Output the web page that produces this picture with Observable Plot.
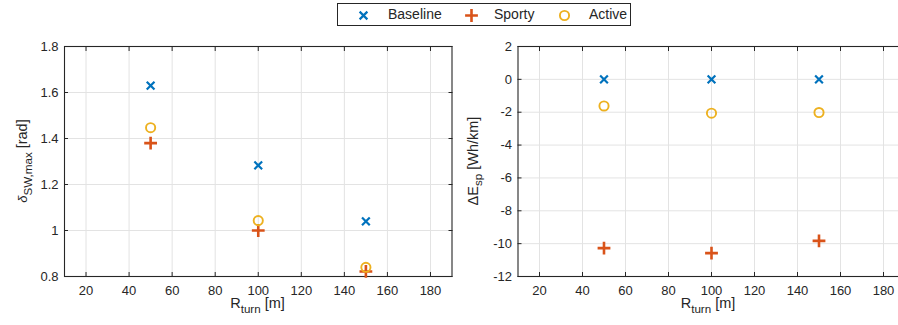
<!DOCTYPE html>
<html>
<head>
<meta charset="utf-8">
<script src="https://cdn.jsdelivr.net/npm/d3@7"></script>
<script src="https://cdn.jsdelivr.net/npm/@observablehq/plot@0.6"></script>
<style>
  html, body { margin: 0; padding: 0; background: #fff; overflow: hidden; }
  #wrap { position: relative; width: 898px; height: 325px; overflow: hidden; font-family: "Liberation Sans", Arial, sans-serif; color: #262626; }
  #left { position: absolute; left: 0; top: 0; width: 460px; }
  #right { position: absolute; left: 450px; top: 0; width: 464px; }
  #wrap svg { max-width: none !important; }
  #legend { position: absolute; left: 337px; top: 3px; width: 292px; height: 21px; border: 1px solid #262626; background: #fff; font-size: 14px; z-index: 2; }
  #legend .item { position: absolute; top: 2px; line-height: 17px; }
  #legend svg { position: absolute; top: 4px; }
</style>
</head>
<body>
<div id="wrap">
  <div id="left"></div>
  <div id="right"></div>
  <div id="legend"></div>
</div>
<script>
// ---- data ----
const radii = [50, 100, 150];
const seriesNames = ["Baseline", "Sporty", "Active"];
const seriesColors = ["#0072BD", "#D95319", "#EDB120"];
const steerBaseline = [1.63, 1.283, 1.04];
const steerSporty = [1.38, 1.0, 0.822];
const steerActive = [1.447, 1.043, 0.84];
const energyBaseline = [0, 0, 0];
const energySporty = [-10.27, -10.58, -9.83];
const energyActive = [-1.62, -2.06, -2.02];
const xTicks = [20, 40, 60, 80, 100, 120, 140, 160, 180];
const leftYTicks = [0.8, 1, 1.2, 1.4, 1.6, 1.8];
const rightYTicks = [-12, -10, -8, -6, -4, -2, 0, 2];

const symbols = ["times", "plus", "circle"];
const markerR = [3.6, 4.2, 4.6];
const markerW = [2.2, 2.6, 1.9];

function rows(values) { return radii.map((r, i) => ({x: r, y: values[i]})); }

function panel({width, marginLeft, marginRight, yDomain, yTicks, series}) {
  const tf = d => String(d);
  const marks = [
    Plot.gridX(xTicks, {stroke: "#e3e3e3", strokeOpacity: 1}),
    Plot.gridY(yTicks, {stroke: "#e3e3e3", strokeOpacity: 1}),
    Plot.axisX(xTicks, {anchor: "bottom", tickSize: 0, tickPadding: 9, tickFormat: tf, label: null, fontSize: 13}),
    Plot.axisX(xTicks, {anchor: "bottom", tickSize: -4, tickFormat: () => "", label: null, stroke: "#262626"}),
    Plot.axisX(xTicks, {anchor: "top", tickSize: -4, tickFormat: () => "", label: null, stroke: "#262626"}),
    Plot.axisY(yTicks, {anchor: "left", tickSize: 0, tickPadding: 6, tickFormat: tf, label: null, fontSize: 13}),
    Plot.axisY(yTicks, {anchor: "left", tickSize: -4, tickFormat: () => "", label: null, stroke: "#262626"}),
    Plot.axisY(yTicks, {anchor: "right", tickSize: -4, tickFormat: () => "", label: null, stroke: "#262626"}),
    Plot.frame({stroke: "#262626", strokeWidth: 1.1})
  ];
  series.forEach((vals, i) => {
    marks.push(Plot.dot(rows(vals), {x: "x", y: "y", symbol: () => symbols[i], r: markerR[i], stroke: seriesColors[i], strokeWidth: markerW[i], fill: "none"}));
  });
  return Plot.plot({
    width, height: 325,
    marginLeft, marginRight, marginTop: 46, marginBottom: 49,
    x: {domain: [10, 190]},
    y: {domain: yDomain},
    symbol: {type: "identity"},
    style: {fontFamily: "'Liberation Sans', Arial, sans-serif", fontSize: "13px", color: "#262626", background: "transparent", overflow: "visible", maxWidth: "none"},
    marks
  });
}

const leftPlot = panel({width: 460, marginLeft: 64, marginRight: 8.5, yDomain: [0.8, 1.8], yTicks: leftYTicks, series: [steerBaseline, steerSporty, steerActive]});
const rightPlot = panel({width: 464, marginLeft: 67.5, marginRight: 9.5, yDomain: [-12, 2], yTicks: rightYTicks, series: [energyBaseline, energySporty, energyActive]});
document.getElementById("left").append(leftPlot);
document.getElementById("right").append(rightPlot);

// axis titles with sub-scripts
function addLabel(svg, {x, y, rotate, parts, size}) {
  const t = d3.select(svg).append("text")
    .attr("transform", `translate(${x},${y})` + (rotate ? ` rotate(${rotate})` : ""))
    .attr("text-anchor", "middle")
    .attr("fill", "#262626")
    .attr("font-family", "'Liberation Sans', Arial, sans-serif")
    .attr("font-size", size);
  let shift = 0;
  parts.forEach(p => {
    const ts = t.append("tspan").text(p.t);
    const target = p.sub ? 4.5 : 0;
    ts.attr("dy", target - shift);
    shift = target;
    if (p.sub) ts.attr("font-size", size * 0.8);
    if (p.italic) ts.attr("font-style", "italic");
    if (p.fs) ts.attr("font-size", p.fs);
  });
}
addLabel(leftPlot, {x: 257.5, y: 308, size: 14.5, parts: [{t: "R"}, {t: "turn", sub: true}, {t: " [m]"}]});
addLabel(leftPlot, {x: 27, y: 161, rotate: -90, size: 14.5, parts: [{t: "δ", italic: true, fs: 13}, {t: "SW,max", sub: true}, {t: " [rad]"}]});
addLabel(rightPlot, {x: 258, y: 308, size: 14.5, parts: [{t: "R"}, {t: "turn", sub: true}, {t: " [m]"}]});
addLabel(rightPlot, {x: 27.5, y: 161, rotate: -90, size: 14.5, parts: [{t: "ΔE"}, {t: "sp", sub: true}, {t: " [Wh/km]"}]});

// legend
const legend = document.getElementById("legend");
const legendPos = [{m: 25, t: 50}, {m: 133, t: 156}, {m: 226, t: 251}];
seriesNames.forEach((name, i) => {
  const s = Plot.plot({
    width: 14, height: 14, margin: 0,
    x: {domain: [0, 1], axis: null}, y: {domain: [0, 1], axis: null},
    symbol: {type: "identity"},
    style: {background: "transparent", overflow: "visible"},
    marks: [Plot.dot([{x: 0.5, y: 0.5}], {x: "x", y: "y", symbol: () => symbols[i], r: markerR[i], stroke: seriesColors[i], strokeWidth: markerW[i], fill: "none"})]
  });
  s.style.left = (legendPos[i].m - 7) + "px";
  legend.append(s);
  const d = document.createElement("div");
  d.className = "item";
  d.style.left = legendPos[i].t + "px";
  d.textContent = name;
  legend.append(d);
});
</script>
</body>
</html>
